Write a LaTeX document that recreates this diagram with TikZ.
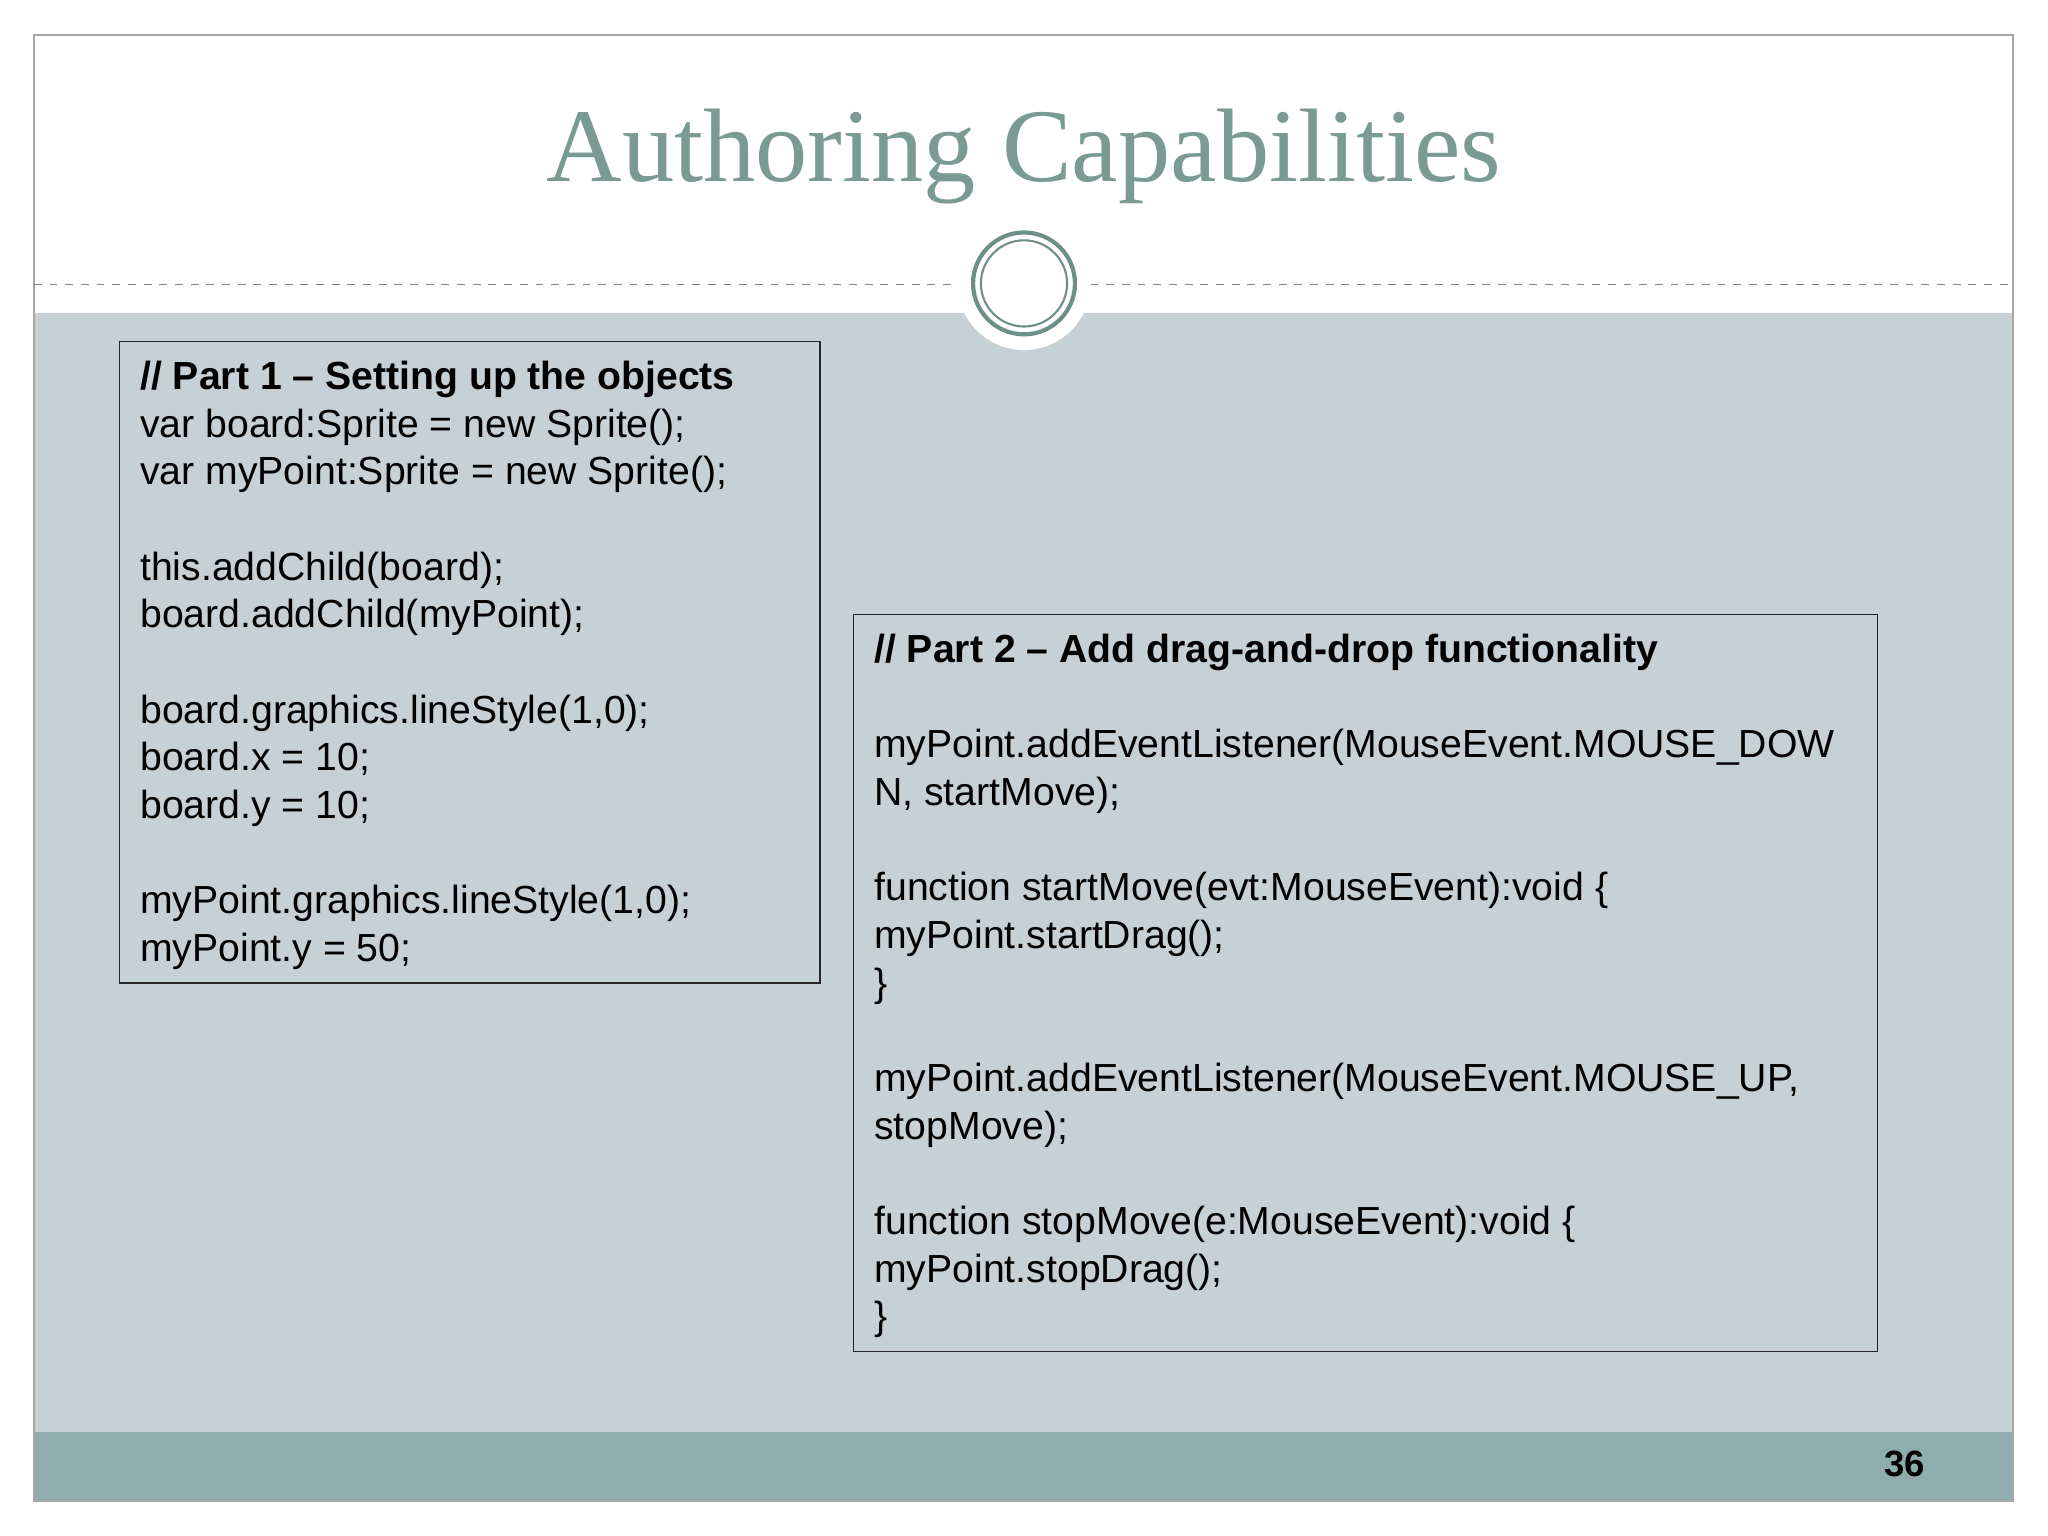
\documentclass[tikz,border=0pt]{standalone}
\usepackage{fontspec}
\setmainfont{Liberation Sans}
\newfontfamily\titlefont{Liberation Serif}
\definecolor{bandgray}{HTML}{C5D1D6}
\definecolor{barteal}{HTML}{8FACAF}
\definecolor{titlecol}{HTML}{7A9A94}
\definecolor{ringcol}{HTML}{6E8E88}
\begin{document}
\begin{tikzpicture}[x=0.5pt,y=-0.5pt,
  codebox/.style={draw=black!85,line width=0.6pt,anchor=north west,inner sep=0pt},
  code/.style={anchor=north west,align=left,inner sep=0pt,font=\fontsize{15}{18.25}\selectfont,text=black}]
\useasboundingbox (0,0) rectangle (1568,1176);
\fill[white] (0,0) rectangle (1568,1176);
\fill[bandgray] (26,240) rectangle (1541,1096);
\fill[barteal] (26,1096) rectangle (1541,1149);
\draw[gray!70,line width=0.6pt] (26,27) rectangle (1541,1149);
\draw[gray,dashed,line width=0.4pt] (26,218) -- (735,218);
\draw[gray,dashed,line width=0.4pt] (835,218) -- (1541,218);
\fill[white] (784,217) circle (51);
\draw[ringcol,line width=1.6pt] (784,217) circle (39);
\draw[ringcol,line width=0.8pt] (784,217) circle (33);
\node[font=\titlefont\fontsize{40}{44}\selectfont,text=titlecol] (title) at (784,120) {Authoring Capabilities};
\node[codebox,minimum width=268pt,minimum height=245.5pt] (box1) at (91,261) {};
\node[code] (t1) at (107,276) {\textbf{// Part 1 -- Setting up the objects}\\
var board:Sprite = new Sprite();\\
var myPoint:Sprite = new Sprite();\\
\mbox{}\\
this.addChild(board);\\
board.addChild(myPoint);\\
\mbox{}\\
board.graphics.lineStyle(1,0);\\
board.x = 10;\\
board.y = 10;\\
\mbox{}\\
myPoint.graphics.lineStyle(1,0);\\
myPoint.y = 50;};
\node[codebox,minimum width=392pt,minimum height=282pt] (box2) at (653,470) {};
\node[code] (t2) at (669,485) {\textbf{// Part 2 -- Add drag-and-drop functionality}\\
\mbox{}\\
myPoint.addEventListener(MouseEvent.MOUSE\_DOW\\
N, startMove);\\
\mbox{}\\
function startMove(evt:MouseEvent):void \{\\
myPoint.startDrag();\\
\}\\
\mbox{}\\
myPoint.addEventListener(MouseEvent.MOUSE\_UP,\\
stopMove);\\
\mbox{}\\
function stopMove(e:MouseEvent):void \{\\
myPoint.stopDrag();\\
\}};
\node[font=\bfseries\fontsize{14}{16}\selectfont] (pnum) at (1458,1121) {36};
\end{tikzpicture}
\end{document}
